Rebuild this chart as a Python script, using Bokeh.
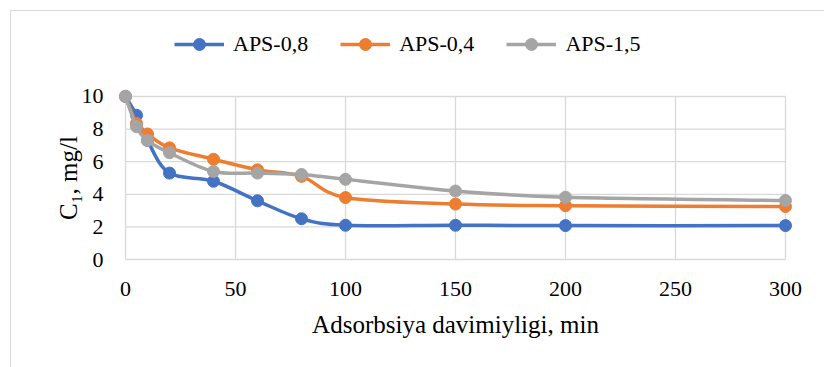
from bokeh.plotting import figure
from bokeh.layouts import column
from bokeh.models import Range1d, FixedTicker, Legend, LegendItem
from bokeh.embed import file_html
from bokeh.resources import INLINE

# Adsorption time, min
time_min = [0, 5, 10, 20, 40, 60, 80, 100, 150, 200, 300]
# Residual concentration C1, mg/l
aps_08 = [10.0, 8.85, 7.3, 5.3, 4.8, 3.6, 2.5, 2.1, 2.1, 2.08, 2.08]
aps_04 = [10.0, 8.35, 7.7, 6.85, 6.15, 5.5, 5.1, 3.8, 3.4, 3.3, 3.25]
aps_15 = [10.0, 8.15, 7.3, 6.55, 5.4, 5.3, 5.22, 4.92, 4.2, 3.82, 3.62]

series_names = ["APS-0,8", "APS-0,4", "APS-1,5"]
series_colors = ["#4472C4", "#ED7D31", "#A5A5A5"]
series_values = [aps_08, aps_04, aps_15]

x_ticks = [0, 50, 100, 150, 200, 250, 300]
y_ticks = [0, 2, 4, 6, 8, 10]

FONT = "Liberation Serif"
GRID = "#D9D9D9"
LINE_W = 3.5
MARK = 12


def smooth_segments(xs, ys):
    """Cubic Bezier pieces (Catmull-Rom style) through every data point."""
    n = len(xs)
    out = {k: [] for k in ("x0", "y0", "x1", "y1", "cx0", "cy0", "cx1", "cy1")}
    for i in range(n - 1):
        a = max(i - 1, 0)
        b = min(i + 2, n - 1)
        out["x0"].append(xs[i])
        out["y0"].append(ys[i])
        out["x1"].append(xs[i + 1])
        out["y1"].append(ys[i + 1])
        out["cx0"].append(xs[i] + (xs[i + 1] - xs[a]) / 6.0)
        out["cy0"].append(ys[i] + (ys[i + 1] - ys[a]) / 6.0)
        out["cx1"].append(xs[i + 1] - (xs[b] - xs[i]) / 6.0)
        out["cy1"].append(ys[i + 1] - (ys[b] - ys[i]) / 6.0)
    return out


# ---- legend strip across the top of the chart area ----
# (its key renderers carry the series but lie outside this strip's 0..1 view)
key_fig = figure(
    width=813, height=70, output_backend="svg", toolbar_location=None,
    x_range=Range1d(0, 1), y_range=Range1d(0, 1),
    min_border=0, min_border_left=0, min_border_right=0,
    min_border_top=0, min_border_bottom=0,
)
key_fig.axis.visible = False
key_fig.grid.visible = False
key_fig.outline_line_color = None
key_fig.border_fill_color = "white"

items = []
for name, color, ys in zip(series_names, series_colors, series_values):
    k_line = key_fig.line(time_min, ys, line_color=color, line_width=LINE_W)
    k_dot = key_fig.scatter(time_min, ys, marker="circle", size=MARK, fill_color=color, line_color=color)
    items.append(LegendItem(label=name, renderers=[k_line, k_dot]))

key_fig.add_layout(Legend(
    items=items, orientation="horizontal", location=(57, 22),
    glyph_width=50, glyph_height=30, label_standoff=9, spacing=32,
    padding=0, margin=0, border_line_color=None, background_fill_alpha=0,
    label_text_font=FONT, label_text_font_style="normal",
    label_text_font_size="22px", label_text_color="black",
))

# ---- main chart ----
p = figure(
    width=813, height=286,
    output_backend="svg", toolbar_location=None,
    x_range=Range1d(-3.64, 303.64), y_range=Range1d(-0.49, 10.49),
    min_border_left=106, min_border_right=31,
    min_border_top=7, min_border_bottom=100,
)
p.outline_line_color = None
p.background_fill_color = "white"
p.border_fill_color = "white"
p.xgrid.visible = False
p.ygrid.visible = False

# gridlines limited to the plotted value range
p.segment(x0=x_ticks, y0=[y_ticks[0]] * len(x_ticks), x1=x_ticks, y1=[y_ticks[-1]] * len(x_ticks),
          line_color=GRID, line_width=1.3)
p.segment(x0=[x_ticks[0]] * len(y_ticks), y0=y_ticks, x1=[x_ticks[-1]] * len(y_ticks), y1=y_ticks,
          line_color=GRID, line_width=1.3)

for color, ys in zip(series_colors, series_values):
    seg = smooth_segments(time_min, ys)
    p.bezier(line_color=color, line_width=LINE_W, line_cap="round", **seg)
    p.scatter(time_min, ys, marker="circle", size=MARK, fill_color=color, line_color=color)

for ax in (p.xaxis[0], p.yaxis[0]):
    ax.axis_line_color = None
    ax.major_tick_line_color = None
    ax.minor_tick_line_color = None
    ax.major_label_text_font = FONT
    ax.major_label_text_font_style = "normal"
    ax.major_label_text_font_size = "22px"
    ax.major_label_text_color = "black"
    ax.axis_label_text_font = FONT
    ax.axis_label_text_font_style = "normal"
    ax.axis_label_text_color = "black"
    ax.axis_label_text_font_size = "25px"

p.xaxis[0].ticker = FixedTicker(ticks=x_ticks)
p.yaxis[0].ticker = FixedTicker(ticks=y_ticks)
p.xaxis[0].major_label_standoff = 8
p.yaxis[0].major_label_standoff = 8
p.xaxis[0].axis_label = "Adsorbsiya davimiyligi, min"
p.yaxis[0].axis_label = "C\u2081, mg/l"
p.xaxis[0].axis_label_standoff = 12
p.yaxis[0].axis_label_standoff = -3

# chart-area border: thin grey line along the top and left edges
chart = column(
    key_fig, p, spacing=0,
    margin=(10, 0, 0, 10),
    styles={"border-top": "1px solid #D9D9D9", "border-left": "1px solid #D9D9D9",
            "background-color": "white"},
)

open("out.html", "w").write(file_html(chart, INLINE))
